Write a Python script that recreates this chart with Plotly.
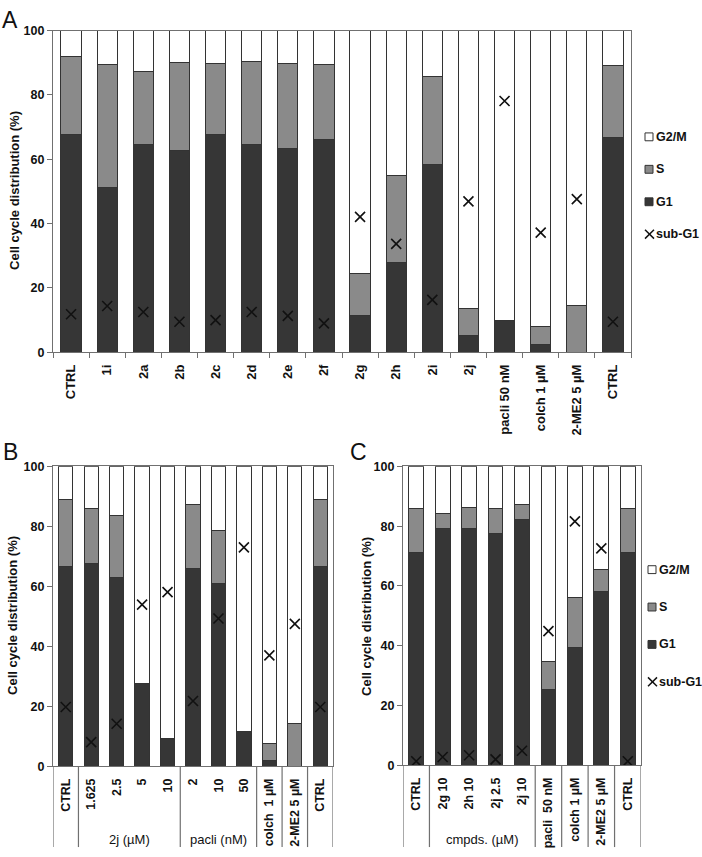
import plotly.graph_objects as go

# ---------------- data ----------------
cats_A = ["CTRL", "1i", "2a", "2b", "2c", "2d", "2e", "2f", "2g", "2h", "2i", "2j",
          "pacli 50 nM", "colch 1 µM", "2-ME2 5 µM", "CTRL"]
g1_A = [67.6, 51.1, 64.7, 62.7, 67.6, 64.7, 63.4, 66.3, 11.3, 27.8, 58.3, 5.2, 10.0, 2.3, 0.0, 66.9]
s_A = [24.4, 38.5, 22.7, 27.3, 22.2, 25.8, 26.4, 23.1, 13.2, 27.3, 27.4, 8.4, 0.0, 5.7, 14.6, 22.3]
g2m_A = [8.0, 10.4, 12.6, 10.0, 10.2, 9.5, 10.2, 10.6, 75.5, 44.9, 14.3, 86.4, 90.0, 92.0, 85.4, 10.8]
sub_A = [11.8, 14.4, 12.5, 9.5, 10.0, 12.5, 11.3, 9.0, 42.1, 33.7, 16.3, 46.9, 78.1, 37.2, 47.6, 9.5]

cats_B = ["CTRL", "1.625", "2.5", "5", "10", "2", "10", "50", "colch  1 µM", "2-ME2 5 µM", "CTRL"]
g1_B = [66.7, 67.5, 62.8, 27.7, 9.3, 65.9, 61.0, 11.5, 1.9, 0.0, 66.7]
s_B = [22.1, 18.5, 20.8, 0.0, 0.0, 21.3, 17.5, 0.0, 5.7, 14.2, 22.1]
g2m_B = [11.2, 14.0, 16.4, 72.3, 90.7, 12.8, 21.5, 88.5, 92.4, 85.8, 11.2]
sub_B = [19.8, 8.1, 14.2, 53.9, 58.1, 21.8, 49.3, 73.0, 37.0, 47.5, 19.8]
groups_B = [("", 1), ("2j (µM)", 4), ("pacli (nM)", 3), ("", 1), ("", 1), ("", 1)]

cats_C = ["CTRL", "2g 10", "2h 10", "2j 2.5", "2j 10", "pacli  50 nM", "colch 1 µM", "2-ME2 5 µM", "CTRL"]
g1_C = [71.2, 79.3, 79.1, 77.4, 82.4, 25.3, 39.5, 58.3, 71.2]
s_C = [14.8, 4.8, 7.2, 8.4, 4.9, 9.3, 16.6, 7.3, 14.8]
g2m_C = [14.0, 15.9, 13.7, 14.2, 12.7, 65.4, 43.9, 34.4, 14.0]
sub_C = [1.4, 2.8, 3.4, 2.0, 4.9, 44.9, 81.6, 72.6, 1.4]
groups_C = [("", 1), ("cmpds. (µM)", 4), ("", 1), ("", 1), ("", 1), ("", 1)]

legend_labels = ["G2/M", "S", "G1", "sub-G1"]
y_ticks = [0, 20, 40, 60, 80, 100]

# ---------------- style ----------------
W, H = 702, 857
FONT = "Liberation Sans, Arial, sans-serif"
C_G1 = "#363636"
C_S = "#8a8a8a"
C_G2M = "#ffffff"
C_EDGE = "#333333"
C_AX = "#707070"
BARW = 0.56


def px(x):
    return x / W


def py(y):
    return 1 - y / H


fig = go.Figure()

panels = [
    ("x", "y", cats_A, g1_A, s_A, g2m_A, sub_A),
    ("x2", "y2", cats_B, g1_B, s_B, g2m_B, sub_B),
    ("x3", "y3", cats_C, g1_C, s_C, g2m_C, sub_C),
]

for xa, ya, cats, g1, s, g2m, sub in panels:
    xs = list(range(len(cats)))
    for vals, col in ((g1, C_G1), (s, C_S), (g2m, C_G2M)):
        fig.add_trace(go.Bar(x=xs, y=vals, xaxis=xa, yaxis=ya, width=BARW,
                             marker=dict(color=col, line=dict(color=C_EDGE, width=1)),
                             showlegend=False, hoverinfo="y"))
    fig.add_trace(go.Scatter(x=xs, y=sub, xaxis=xa, yaxis=ya, mode="markers",
                             marker=dict(symbol="x-thin", size=10,
                                         line=dict(color="#111111", width=1.6)),
                             showlegend=False, hoverinfo="y"))


def xaxis_cfg(dom, cats, fsize, anchor):
    n = len(cats)
    return dict(domain=dom, anchor=anchor, range=[-0.5, n - 0.5],
                tickmode="array", tickvals=list(range(n)), ticktext=cats,
                tickangle=-90, ticks="outside", ticklen=6, tickcolor="rgba(0,0,0,0)",
                tickfont=dict(family=FONT, size=fsize, color="#111111", weight="bold"),
                showline=True, linecolor=C_AX, linewidth=1.2, mirror=True,
                showgrid=False, zeroline=False, fixedrange=True)


def yaxis_cfg(dom, anchor):
    return dict(domain=dom, anchor=anchor, range=[0, 100], tickmode="array",
                tickvals=y_ticks, ticks="outside", ticklen=5, tickcolor=C_AX,
                tickfont=dict(family=FONT, size=12.5, color="#111111", weight="bold"),
                showline=True, linecolor=C_AX, linewidth=1.2, mirror=True,
                showgrid=False, zeroline=False, fixedrange=True)


xA = xaxis_cfg([px(53), px(631)], cats_A, 13, "y")
xA["minor"] = dict(tickmode="linear", tick0=0.5, dtick=1, ticks="outside", ticklen=5,
                   tickcolor=C_AX, showgrid=False)

fig.update_layout(
    width=W, height=H, margin=dict(l=0, r=0, t=0, b=0),
    paper_bgcolor="white", plot_bgcolor="white",
    barmode="stack", showlegend=False,
    font=dict(family=FONT, color="#111111"),
    xaxis=xA,
    yaxis=yaxis_cfg([py(351), py(24)], "x"),
    xaxis2=xaxis_cfg([px(53), px(333)], cats_B, 12.5, "y2"),
    yaxis2=yaxis_cfg([py(772), py(467)], "x2"),
    xaxis3=xaxis_cfg([px(403), px(641)], cats_C, 12.5, "y3"),
    yaxis3=yaxis_cfg([py(771), py(467)], "x3"),
)

shapes = []
annotations = []

# group separators and group labels for B and C
for xa, groups, y_axis_px in (("x2", groups_B, 772), ("x3", groups_C, 771)):
    pos = -0.5
    bounds = [pos]
    for name, cnt in groups:
        if name:
            annotations.append(dict(x=pos + cnt / 2, y=py(846), xref=xa, yref="paper",
                                    text=name, showarrow=False, xanchor="center", yanchor="middle",
                                    font=dict(family=FONT, size=13, color="#111111")))
        pos += cnt
        bounds.append(pos)
    for b in bounds:
        shapes.append(dict(type="line", xref=xa, yref="paper", x0=b, x1=b,
                           y0=py(y_axis_px), y1=py(854), line=dict(color=C_AX, width=1.2)))

# y-axis titles
for xc, yc in ((15, 187), (13, 619), (367, 619)):
    annotations.append(dict(x=px(xc), y=py(yc), xref="paper", yref="paper",
                            text="Cell cycle distribution (%)", textangle=-90, showarrow=False,
                            xanchor="center", yanchor="middle",
                            font=dict(family=FONT, size=13, color="#111111", weight="bold")))

# panel letters
for letter, xc, yc in (("A", 10, 13), ("B", 10, 452), ("C", 358, 452)):
    annotations.append(dict(x=px(xc), y=py(yc), xref="paper", yref="paper", text=letter,
                            showarrow=False, xanchor="center", yanchor="middle",
                            font=dict(family=FONT, size=23, color="#111111")))

# legends (panel A and panel C)
for lx, ys in ((645, (132, 165, 198, 231)), (648, (572, 610, 648, 686))):
    fills = [C_G2M, C_S, C_G1]
    for i, lab in enumerate(legend_labels):
        yc = ys[i]
        if i < 3:
            shapes.append(dict(type="rect", xref="paper", yref="paper",
                               x0=px(lx), x1=px(lx + 8), y0=py(yc + 4), y1=py(yc - 4),
                               fillcolor=fills[i], line=dict(color=C_EDGE, width=1)))
        else:
            shapes.append(dict(type="line", xref="paper", yref="paper",
                               x0=px(lx), x1=px(lx + 9), y0=py(yc + 4.5), y1=py(yc - 4.5),
                               line=dict(color="#111111", width=1.5)))
            shapes.append(dict(type="line", xref="paper", yref="paper",
                               x0=px(lx), x1=px(lx + 9), y0=py(yc - 4.5), y1=py(yc + 4.5),
                               line=dict(color="#111111", width=1.5)))
        annotations.append(dict(x=px(lx + 9), y=py(yc), xref="paper", yref="paper", text=lab,
                                showarrow=False, xanchor="left", yanchor="middle",
                                font=dict(family=FONT, size=12.5, color="#111111", weight="bold")))

fig.update_layout(shapes=shapes, annotations=annotations)

fig.write_html("out.html")
